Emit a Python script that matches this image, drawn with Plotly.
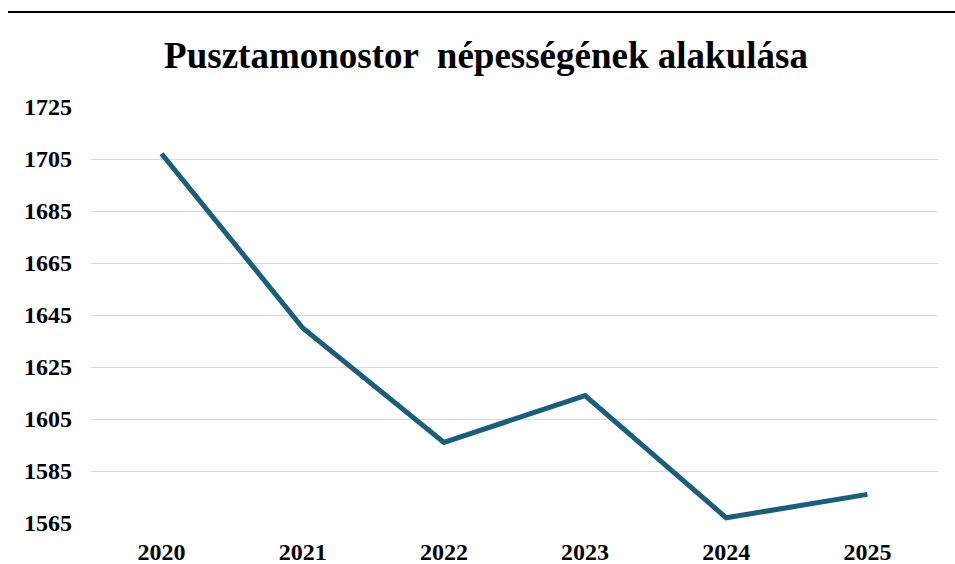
import plotly.graph_objects as go

years = ["2020", "2021", "2022", "2023", "2024", "2025"]
population = [1707, 1640, 1596, 1614, 1567, 1576]
y_ticks = [1565, 1585, 1605, 1625, 1645, 1665, 1685, 1705, 1725]
title_text = "Pusztamonostor  népességének alakulása"

W, H = 955, 564
ml, mr, mt, mb = 91, 17, 107, 41
pw = W - ml - mr
ph = H - mt - mb

fig = go.Figure()
fig.add_trace(go.Scatter(
    x=years, y=population, mode="lines",
    line=dict(color="#1a5e7f", width=5),
    hoverinfo="x+y",
))

font_family = "Liberation Serif, Times New Roman, serif"

fig.update_layout(
    width=W, height=H,
    margin=dict(l=ml, r=mr, t=mt, b=mb, autoexpand=False),
    paper_bgcolor="white", plot_bgcolor="white",
    showlegend=False,
    title=dict(
        text="<b>" + title_text + "</b>",
        xref="container", x=486 / W, xanchor="center",
        yref="container", y=1 - 55 / H, yanchor="middle",
        font=dict(family=font_family, size=37, color="black"),
    ),
    xaxis=dict(
        type="category", range=[-0.5, 5.5], automargin=False,
        showgrid=False, showline=False, zeroline=False,
        ticks="", ticklabelstandoff=12,
        tickfont=dict(family=font_family, size=24, color="black", weight="bold"),
    ),
    yaxis=dict(
        range=[1565, 1725], tickvals=y_ticks, automargin=False,
        showgrid=True, gridcolor="#d9d9d9", gridwidth=1.3,
        showline=False, zeroline=False,
        ticks="", ticklabelstandoff=18,
        tickfont=dict(family=font_family, size=24, color="black", weight="bold"),
    ),
    shapes=[dict(
        type="line", xref="paper", yref="paper",
        x0=(8 - ml) / pw, x1=(W - ml) / pw,
        y0=(H - mb - 12) / ph, y1=(H - mb - 12) / ph,
        line=dict(color="black", width=2),
    )],
)

fig.write_html(
    "out.html",
    config={"displayModeBar": False},
    post_script="document.body.style.margin='0';document.body.style.overflow='hidden';",
)
